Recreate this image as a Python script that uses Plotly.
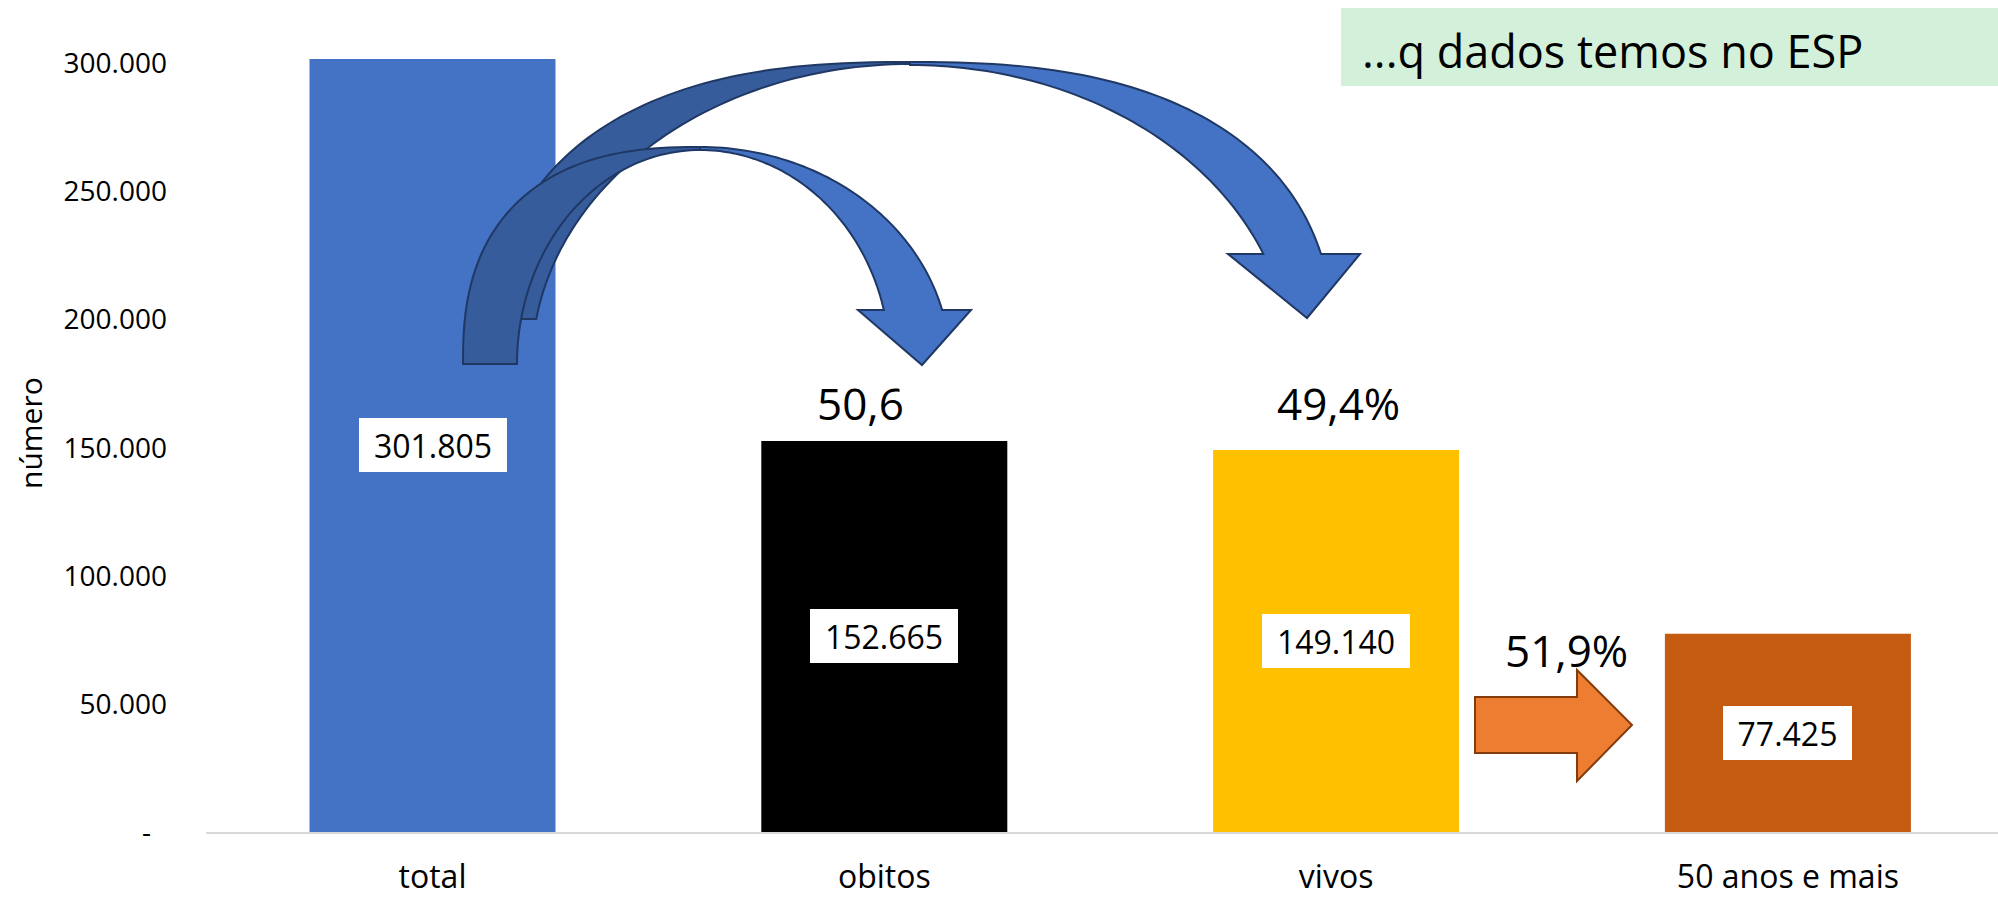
import numpy as np
import plotly.graph_objects as go

# ---------------- data ----------------
categories = ["total", "obitos", "vivos", "50 anos e mais"]
values = [301805, 152665, 149140, 77425]
bar_colors = ["#4472C4", "#000000", "#FFC000", "#C55A11"]
y_tick_values = [0, 50000, 100000, 150000, 200000, 250000, 300000]
title_text = "...q dados temos no ESP"
axis_title = "número"

FONT = "Open Sans"
W, H = 1998, 897
ML, MR, MT, MB = 206, 0, 0, 65
PW, PH = W - ML - MR, H - MT - MB


def fmt_thousands(v):
    return "-\u2007" if v == 0 else f"{v:,}".replace(",", ".")


def pct(a, b):
    return f"{100 * a / b:.1f}".replace(".", ",")


# percentages derived from the data
pct_obitos = pct(values[1], values[0])            # 50,6
pct_vivos = pct(values[2], values[0]) + "%"       # 49,4%
pct_50 = pct(values[3], values[2]) + "%"          # 51,9%

# ---------------- helpers for decorative shapes (pixel -> paper) ----------------
def px(x):
    return (x - ML) / PW


def py(y):
    return (MT + PH - y) / PH


def arc(cx, cy, rx, ry, n, side, y_end, npts=60):
    v_end = max(cy - y_end, 0.0)
    t_end = np.arccos((v_end / ry) ** (n / 2.0))
    t = np.linspace(0, t_end, npts)
    u = rx * np.sin(t) ** (2.0 / n) * side
    v = ry * np.cos(t) ** (2.0 / n)
    return list(zip(cx + u, cy - v))


def path_from(points):
    s = "M " + " L ".join(f"{px(x):.5f},{py(y):.5f}" for x, y in points) + " Z"
    return s


BLUE = "#4472C4"
BLUE_DARK = "#365C9C"
OUTLINE = "#1F3864"

shapes = []

# big curved arrow (total -> vivos)
big_dark = arc(910, 364, 420, 302, 2.5, -1, 319) + arc(910, 364, 378, 300, 2.0, -1, 319)[::-1]
big_light = (arc(910, 364, 425, 302, 2.5, 1, 254)
             + [(1360, 254), (1307, 318), (1228, 254)]
             + arc(910, 364, 380, 299, 2.0, 1, 254)[::-1])
# small curved arrow (total -> obitos)
small_dark = arc(700, 364, 237, 217, 2.5, -1, 364) + arc(700, 364, 183, 214, 2.0, -1, 364)[::-1]
small_light = (arc(700, 364, 250, 217, 2.0, 1, 310)
               + [(971, 310), (922, 365), (858, 310)]
               + arc(700, 364, 190, 214, 2.0, 1, 310)[::-1])

for pts, col in [(big_dark, BLUE_DARK), (big_light, BLUE), (small_dark, BLUE_DARK), (small_light, BLUE)]:
    shapes.append(dict(type="path", xref="paper", yref="paper", path=path_from(pts),
                       fillcolor=col, line=dict(color=OUTLINE, width=2), layer="above"))

# orange block arrow (vivos -> 50 anos e mais)
orange = [(1475, 697), (1577, 697), (1577, 670), (1632, 725), (1577, 781), (1577, 753), (1475, 753)]
shapes.append(dict(type="path", xref="paper", yref="paper", path=path_from(orange),
                   fillcolor="#ED7D31", line=dict(color="#843C0C", width=2), layer="above"))

# title box
shapes.append(dict(type="rect", xref="paper", yref="paper", x0=px(1341), x1=px(1998),
                   y0=py(86), y1=py(8), fillcolor="#D3F0DA", line=dict(width=0), layer="above"))

# ---------------- figure ----------------
fig = go.Figure()
fig.add_trace(go.Bar(x=categories, y=values, marker=dict(color=bar_colors, line=dict(width=0)),
                     width=0.5445, hoverinfo="x+y", showlegend=False))

annotations = []
# value labels in white boxes at bar middle
for c, v in zip(categories, values):
    txt = fmt_thousands(v)
    annotations.append(dict(x=c, y=v / 2, xref="x", yref="y", text=txt, showarrow=False,
                            font=dict(family=FONT, size=32, color="#000000"),
                            bgcolor="#FFFFFF", borderpad=0, borderwidth=0,
                            width=148 if len(txt) >= 7 else 129, height=54,
                            xanchor="center", yanchor="middle"))

for txt, xc, yc in [(pct_obitos, 860, 403), (pct_vivos, 1338, 403), (pct_50, 1566, 650)]:
    annotations.append(dict(x=px(xc), y=py(yc), xref="paper", yref="paper", text=txt,
                            showarrow=False, font=dict(family=FONT, size=44, color="#000000"),
                            xanchor="center", yanchor="middle"))

annotations.append(dict(x=px(1360), y=py(50), xref="paper", yref="paper", text=title_text,
                        showarrow=False, font=dict(family=FONT, size=45, color="#000000"),
                        xanchor="left", yanchor="middle"))

annotations.append(dict(x=px(30), y=py(433), xref="paper", yref="paper", text=axis_title,
                        textangle=-90, showarrow=False,
                        font=dict(family=FONT, size=30, color="#000000"),
                        xanchor="center", yanchor="middle"))

y_top = (PH) / ((PH - 63.5) / 300000)

fig.update_layout(
    width=W, height=H,
    margin=dict(l=ML, r=MR, t=MT, b=MB, pad=0),
    paper_bgcolor="#FFFFFF", plot_bgcolor="#FFFFFF",
    font=dict(family=FONT, color="#000000"),
    shapes=shapes, annotations=annotations,
    showlegend=False,
    xaxis=dict(type="category", categoryorder="array", categoryarray=categories,
               range=[(ML - 432.5) / 451.8, (W - 432.5) / 451.8],
               showline=True, linecolor="#D9D9D9", linewidth=2, ticks="",
               showgrid=False, zeroline=False, automargin=False,
               tickfont=dict(family=FONT, size=32, color="#000000"),
               ticklabelstandoff=16),
    yaxis=dict(range=[0, y_top], tickvals=y_tick_values,
               ticktext=[fmt_thousands(v) for v in y_tick_values],
               showgrid=False, zeroline=False, showline=False, ticks="",
               automargin=False, tickfont=dict(family=FONT, size=28, color="#000000"),
               ticklabelstandoff=38),
)

fig.write_html("out.html")
